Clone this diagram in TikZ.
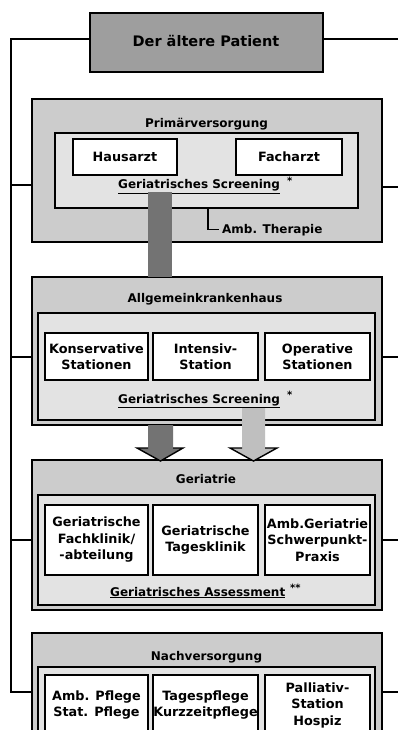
\documentclass[tikz,border=0pt]{standalone}
\usepackage{fontspec}
\setmainfont{DejaVu Sans}
\definecolor{topfill}{gray}{0.62}
\definecolor{outerfill}{gray}{0.80}
\definecolor{innerfill}{gray}{0.89}
\definecolor{barfill}{gray}{0.45}
\definecolor{lightarrow}{gray}{0.75}
\begin{document}
\begin{tikzpicture}[x=1pt,y=-1pt,
  lbl/.style={inner sep=0pt, font=\bfseries\fontsize{12}{16}\selectfont},
  astlbl/.style={inner sep=0pt, anchor=base west, font=\bfseries\fontsize{10}{10}\selectfont},
  outerbox/.style={draw, line width=1.6pt, fill=outerfill, rectangle, inner sep=0pt, minimum width=350pt},
  innerbox/.style={draw, line width=1.2pt, fill=innerfill, rectangle, inner sep=0pt, minimum width=337pt},
  subbox/.style={draw, line width=1.2pt, fill=white, rectangle, inner sep=0pt, align=center, font=\bfseries\fontsize{12.8}{16.5}\selectfont},
  conn/.style={draw, line width=1.3pt}]
\useasboundingbox (0,0) rectangle (398,730);
\clip (0,0) rectangle (398,730);
\fill[white] (0,0) rectangle (398,730);

% top box
\node[draw, line width=1.6pt, fill=topfill, inner sep=0pt, minimum width=233pt, minimum height=59pt] (top) at (206.5,42.5) {};
\node[lbl, anchor=base, font=\bfseries\fontsize{14.5}{17}\selectfont] (toptxt) at (206,47) {Der ältere Patient};

% Primärversorgung
\node[outerbox, minimum height=143pt] (prim) at (207,170.5) {};
\node[lbl, anchor=base] (primt) at (206.5,128) {Primärversorgung};
\node[innerbox, minimum width=303pt, minimum height=75pt] (primin) at (206.5,170.5) {};
\node[subbox, minimum width=104pt, minimum height=36pt] (haus) at (125,157) {Hausarzt};
\node[subbox, minimum width=106pt, minimum height=36pt] (fach) at (289,157) {Facharzt};
\node[lbl, anchor=base west] (scr1) at (118,189) {\underline{Geriatrisches Screening}};
\node[astlbl] (ast1) at (287,184) {*};
\node[lbl, anchor=base west] (ther) at (222,233) {Amb. Therapie};
\coordinate (T0) at (208,208);
\draw[line width=1.2pt] (T0) |- ([xshift=-3pt]ther.west);

% Allgemeinkrankenhaus
\node[outerbox, minimum height=148pt] (hosp) at (207,351) {};
\node[lbl, anchor=base] (hospt) at (205,302) {Allgemeinkrankenhaus};
\node[innerbox, minimum height=107pt] (hospin) at (206.5,366.5) {};
\node[subbox, minimum width=103pt, minimum height=47pt] (kons) at (96.5,356.5) {Konservative\\Stationen};
\node[subbox, minimum width=105pt, minimum height=47pt] (intens) at (205.5,356.5) {Intensiv-\\Station};
\node[subbox, minimum width=105pt, minimum height=47pt] (oper) at (317.5,356.5) {Operative\\Stationen};
\node[lbl, anchor=base west] (scr2) at (118,403) {\underline{Geriatrisches Screening}};
\node[astlbl] (ast2) at (287,398) {*};

% Geriatrie
\node[outerbox, minimum height=150pt] (ger) at (207,535) {};
\node[lbl, anchor=base] (gert) at (206,483) {Geriatrie};
\node[innerbox, minimum height=110pt] (gerin) at (206.5,550) {};
\node[subbox, minimum width=103pt, minimum height=70pt] (fachk) at (96.5,540) {Geriatrische\\Fachklinik/\\-abteilung};
\node[subbox, minimum width=105pt, minimum height=70pt] (tagk) at (205.5,540) {Geriatrische\\Tagesklinik};
\node[subbox, minimum width=105pt, minimum height=70pt] (ambg) at (317.5,540) {Amb.Geriatrie\\Schwerpunkt-\\Praxis};
\node[lbl, anchor=base west] (ass) at (110,596) {\underline{Geriatrisches Assessment}};
\node[astlbl] (ast3) at (290,591) {**};

% Nachversorgung
\node[outerbox, minimum height=117pt] (nach) at (207,691.5) {};
\node[lbl, anchor=base] (nacht) at (206.5,660) {Nachversorgung};
\node[innerbox, minimum height=78pt] (nachin) at (206.5,706) {};
\node[subbox, minimum width=103pt, minimum height=60pt] (pflege) at (96.5,705) {Amb. Pflege\\Stat. Pflege};
\node[subbox, minimum width=105pt, minimum height=60pt] (tagesp) at (205.5,705) {Tagespflege\\Kurzzeitpflege};
\node[subbox, minimum width=105pt, minimum height=60pt] (pall) at (317.5,705) {Palliativ-\\Station\\Hospiz};

% bar from Primärversorgung to Allgemeinkrankenhaus
\coordinate (B1) at (148,192);
\coordinate (B2) at (172,277);
\fill[barfill] (B1) rectangle (B2);

% arrows to Geriatrie
\coordinate (A1) at (148,425);
\coordinate (A1b) at (173,448);
\coordinate (A1tip) at (160.5,461);
\fill[barfill] (A1) -- (A1 |- A1b) -- (137,448) -- (A1tip) -- (183,448) -- (A1b) -- (A1 -| A1b) -- cycle;
\draw[line width=1.4pt, line join=miter] (A1 |- A1b) -- (137,448) -- (A1tip) -- (183,448) -- (A1b);

\coordinate (A2) at (242,408);
\coordinate (A2b) at (265,448);
\coordinate (A2tip) at (253.5,461);
\fill[lightarrow] (A2) -- (A2 |- A2b) -- (230,448) -- (A2tip) -- (277,448) -- (A2b) -- (A2 -| A2b) -- cycle;
\draw[line width=1.4pt, line join=miter] (A2 |- A2b) -- (230,448) -- (A2tip) -- (277,448) -- (A2b);

% left connector line
\coordinate (L0) at (11,39);
\coordinate (L1) at (11,185);
\coordinate (L2) at (11,357);
\coordinate (L3) at (11,540);
\coordinate (L4) at (11,692);
\draw[conn] (L0 -| top.west) -- (L0) -- (L4) -- (L4 -| nach.west);
\draw[conn] (L1) -- (L1 -| prim.west);
\draw[conn] (L2) -- (L2 -| hosp.west);
\draw[conn] (L3) -- (L3 -| ger.west);

% right stubs
\coordinate (R0) at (398,39);
\coordinate (R1) at (398,187);
\coordinate (R2) at (398,357);
\coordinate (R3) at (398,540);
\coordinate (R4) at (398,692);
\draw[conn] (R0 -| top.east) -- (R0);
\draw[conn] (R1 -| prim.east) -- (R1);
\draw[conn] (R2 -| hosp.east) -- (R2);
\draw[conn] (R3 -| ger.east) -- (R3);
\draw[conn] (R4 -| nach.east) -- (R4);
\end{tikzpicture}
\end{document}
